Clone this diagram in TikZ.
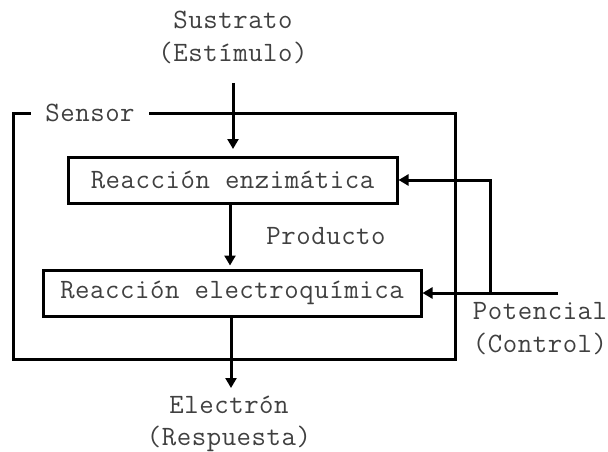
\documentclass[tikz,border=0pt]{standalone}
\usepackage{fontspec}
\newfontfamily\diagmono{Latin Modern Mono}[LetterSpace=2]
\usetikzlibrary{arrows.meta}
\begin{document}
\begin{tikzpicture}[x=1pt,y=-1pt,
  lbl/.style={text=black!75,font=\fontsize{28}{33}\diagmono,inner sep=0pt,align=center},
  blk/.style={draw,line width=3pt,minimum height=46pt,inner sep=0pt,text=black!75,font=\fontsize{28}{33}\diagmono},
  conn/.style={line width=3pt,-{Triangle[length=10pt,width=11pt]}},
  line/.style={line width=3pt}]
\useasboundingbox (0,0) rectangle (608,452);
% outer sensor box
\draw[line] (13,113) rectangle (455,359);
\node[lbl,fill=white,inner xsep=14pt,inner ysep=8pt] (sensor) at (90,113) {Sensor};
% blocks
\node[blk,minimum width=329pt] (enz) at (232.5,180) {Reacción enzimática};
\node[blk,minimum width=378pt] (elq) at (232,293) {Reacción electroquímica};
% labels
\node[lbl,anchor=north] (sus) at (233,11) {Sustrato\\(Estímulo)};
\node[lbl] (prod) at (326,236) {Producto};
\node[lbl,anchor=north] (pot) at (540,302) {Potencial\\(Control)};
\node[lbl,anchor=north,font=\fontsize{28}{32}\diagmono] (ele) at (229,396) {Electrón\\(Respuesta)};
% connectors
\coordinate (pin) at (558,293);
\coordinate (br) at (490,293);
\coordinate (ein) at (231,388);
\draw[conn,shorten >=8pt] (233,83) -- (233,157);
\draw[conn,shorten >=3pt] ([xshift=-2.5pt]enz.south) -- ([xshift=-2.5pt]enz.south |- elq.north);
\draw[conn] ([xshift=-1pt,yshift=2pt]elq.south) -- (ein);
\draw[conn] (pin) -- (elq.east);
\draw[conn] (br) |- (enz.east);
\end{tikzpicture}
\end{document}
